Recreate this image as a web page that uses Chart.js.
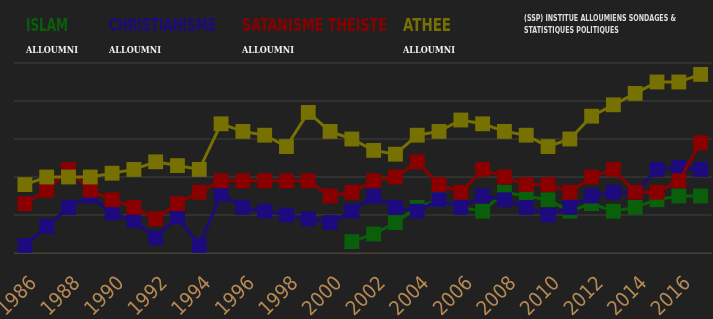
<!DOCTYPE html>
<html>
<head>
<meta charset="utf-8">
<script src="https://cdn.jsdelivr.net/npm/chart.js@4.4.0/dist/chart.umd.min.js"></script>
<style>
  html, body { margin: 0; padding: 0; background: #212121; }
  #wrap { position: relative; width: 713px; height: 319px; overflow: hidden; }
  #chart { position: absolute; left: 0; top: 0; }
  .leg { position: absolute; top: 16px; font-family: 'DejaVu Sans Condensed', sans-serif; font-weight: bold; font-size: 18px; line-height: 1; white-space: nowrap; transform-origin: 0 0; }
  .sub { position: absolute; top: 45px; font-family: 'DejaVu Serif Condensed', serif; font-weight: bold; font-size: 10px; line-height: 1; color: #f0f0f0; white-space: nowrap; transform-origin: 0 0; }
  .ssp { position: absolute; left: 524px; top: 13px; font-family: 'DejaVu Sans Condensed', sans-serif; font-weight: bold; font-size: 9px; line-height: 11.7px; color: #dcdcdc; white-space: nowrap; transform-origin: 0 0; }
</style>
</head>
<body>
<div id="wrap">
  <!-- canvas a bit wider than the page: the big markers make Chart.js keep an 11px margin on the right -->
  <canvas id="chart" width="722" height="319"></canvas>
  <div class="leg" data-w="42" style="left:26px;color:#0a5f0a">ISLAM</div>
  <div class="leg" data-w="107" style="left:109px;color:#1c0a7e">CHRISTIANISME</div>
  <div class="leg" data-w="145" style="left:242px;color:#8a0000">SATANISME THEISTE</div>
  <div class="leg" data-w="48" style="left:403px;color:#767100">ATHEE</div>
  <div class="sub" data-w="52" style="left:26px">ALLOUMNI</div>
  <div class="sub" data-w="52" style="left:109px">ALLOUMNI</div>
  <div class="sub" data-w="52" style="left:242px">ALLOUMNI</div>
  <div class="sub" data-w="52" style="left:403px">ALLOUMNI</div>
  <div class="ssp" data-w="152">(SSP) INSTITUE ALLOUMIENS SONDAGES &amp;<br>STATISTIQUES POLITIQUES</div>
</div>
<script>
const years = ['1986', '1987', '1988', '1989', '1990', '1991', '1992', '1993', '1994', '1995', '1996',
  '1997', '1998', '1999', '2000', '2001', '2002', '2003', '2004', '2005', '2006', '2007', '2008',
  '2009', '2010', '2011', '2012', '2013', '2014', '2015', '2016', '2017'];

const islam = [null, null, null, null, null, null, null, null, null, null, null, null, null, null, null,
  3, 5, 8, 12, 14, 12, 11, 16, 15, 14, 11, 13, 11, 12, 14, 15, 15];
const christianisme = [2, 7, 12, 15, 10.5, 8.5, 4, 9.5, 2, 15.5, 12, 11, 10, 9, 8, 11,
  15, 12, 11, 14, 12, 15, 14, 12, 10, 12, 15, 16, 16, 22, 22.5, 22];
const satanisme = [13, 16.5, 22, 16.5, 14, 12, 9, 13, 16, 19, 19, 19, 19, 19, 15, 16,
  19, 20, 24, 18, 16, 22, 20, 18, 18, 16, 20, 22, 16, 16, 19, 29];
const athee = [18, 20, 20, 20, 21, 22, 24, 23, 22, 34, 32, 31, 28, 37, 32, 30,
  27, 26, 31, 32, 35, 34, 32, 31, 28, 30, 36, 39, 42, 45, 45, 47];

// squeeze the header texts to the widths of the original
document.querySelectorAll('[data-w]').forEach(function (el) {
  const w = el.getBoundingClientRect().width;
  el.style.transform = 'scaleX(' + (el.dataset.w / w) + ')';
});

function serie(label, values, color) {
  return {
    label: label,
    data: values,
    borderColor: color,
    backgroundColor: color,
    borderWidth: 3,
    pointStyle: 'rect',
    pointRadius: 10.5,
    pointHoverRadius: 10.5,
    pointBorderWidth: 0,
    spanGaps: false,
    clip: false
  };
}

const ctx = document.getElementById('chart').getContext('2d');
new Chart(ctx, {
  type: 'line',
  data: {
    labels: years,
    // first dataset is drawn on top
    datasets: [
      serie('ATHEE', athee, '#767100'),
      serie('SATANISME THEISTE', satanisme, '#8a0000'),
      serie('CHRISTIANISME', christianisme, '#1c0a7e'),
      serie('ISLAM', islam, '#0a5f0a')
    ]
  },
  options: {
    responsive: false,
    animation: false,
    layout: { padding: { left: 14, right: 0, top: 63, bottom: 0 } },
    plugins: {
      legend: { display: false },
      tooltip: { enabled: false }
    },
    scales: {
      x: {
        offset: true,
        grid: { display: false, drawTicks: false },
        border: { display: true, color: '#4a4036', width: 1 },
        afterFit: (axis) => {
          axis.height = 66;
          axis.paddingLeft = 0;
          axis.paddingRight = 0;
        },
        ticks: {
          autoSkip: false,
          minRotation: 45,
          maxRotation: 45,
          padding: 19,
          labelOffset: 9,
          color: '#b68a55',
          font: { family: 'DejaVu Sans Condensed', size: 20 },
          callback: (value, index) => index % 2 === 0 ? years[index] : ''
        }
      },
      y: {
        min: 0,
        max: 50,
        ticks: { display: false, stepSize: 10 },
        grid: { color: '#303030', lineWidth: 2, drawTicks: false },
        border: { display: false }
      }
    }
  }
});
</script>
</body>
</html>
